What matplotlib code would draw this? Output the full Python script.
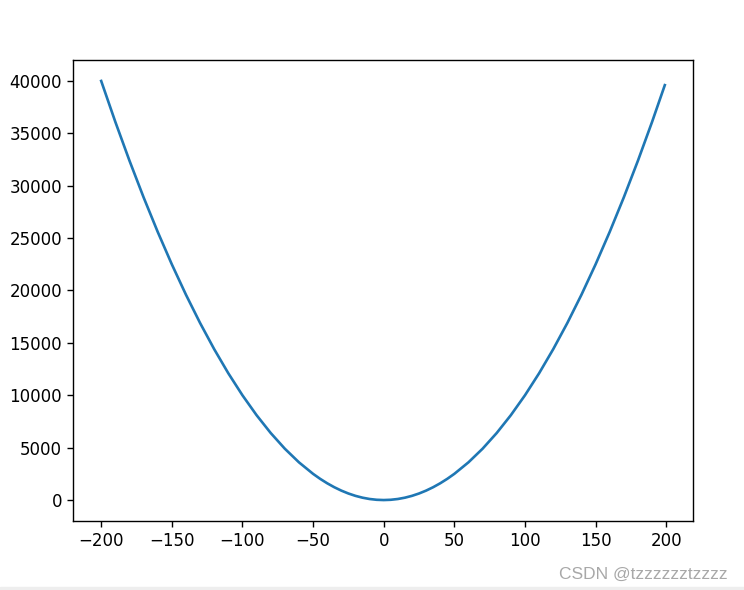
import matplotlib
matplotlib.use('Agg')
import matplotlib.pyplot as plt
from matplotlib.patches import Rectangle

# points (x step 10, step 5 near the bottom, last point at 199)
xs = [-200, -190, -180, -170, -160, -150, -140, -130, -120, -110,
      -100, -90, -80, -70, -60, -50, -45, -40, -35, -30, -25, -20, -15, -10, -5,
      0, 5, 10, 15, 20, 25, 30, 35, 40, 45, 50, 60, 70, 80, 90,
      100, 110, 120, 130, 140, 150, 160, 170, 180, 190, 199]
ys = [40000, 36100, 32400, 28900, 25600, 22500, 19600, 16900, 14400, 12100,
      10000, 8100, 6400, 4900, 3600, 2500, 2025, 1600, 1225, 900, 625, 400, 225, 100, 25,
      0, 25, 100, 225, 400, 625, 900, 1225, 1600, 2025, 2500, 3600, 4900, 6400, 8100,
      10000, 12100, 14400, 16900, 19600, 22500, 25600, 28900, 32400, 36100, 39601]
xticks = [-200, -150, -100, -50, 0, 50, 100, 150, 200]
yticks = [0, 5000, 10000, 15000, 20000, 25000, 30000, 35000, 40000]

W, H = 744, 590
fig = plt.figure(figsize=(W/100, H/100), dpi=100)
ax = fig.add_axes([73/W, 1-521/H, 620/W, 461/H])
ax.plot(xs, ys, color='#1f77b4', linewidth=1.9)
ax.set_xticks(xticks)
ax.set_yticks(yticks)
ax.set_xlim(-219.95, 218.95)
ax.set_ylim(-2000, 42000)
ax.tick_params(labelsize=12, length=4.4, width=1)
for s in ax.spines.values():
    s.set_linewidth(1)

# watermark + grey strip from the screenshot
fig.text(728/W, 1-574/H, 'CSDN @tzzzzzztzzzz', ha='right', va='center',
         fontsize=12.5, color='#a8a8a8', family='Liberation Sans')
fig.patches.append(Rectangle((0, 0), 1, 3/H, transform=fig.transFigure,
                             color='#eeeeee', zorder=0))

fig.savefig('out.png', dpi=100)
